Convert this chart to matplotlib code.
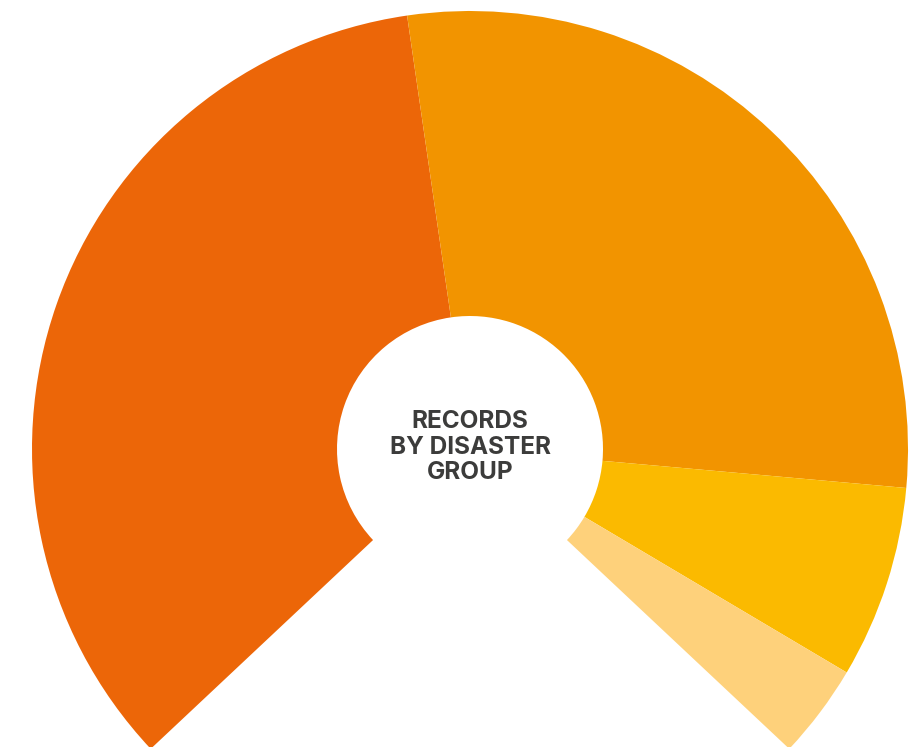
import matplotlib.pyplot as plt

groups = ['Group A', 'Group B', 'Group C', 'Group D']
shares = [46.9, 38.8, 9.6, 4.7]
colors = ['#EC6608', '#F29400', '#FBBA00', '#FED17B']

arc_frac = 0.74  # the ring covers ~266 degrees, open at the bottom

W, H = 910, 747
fig = plt.figure(figsize=(W / 100, H / 100), dpi=100)
ax = fig.add_axes([0, 0, 1, 1])

total = sum(shares)
fracs = [s / total * arc_frac for s in shares]

cx, cy = 470, H - 449
R, r = 438, 133
# begin at the bottom-left edge of the gap and run clockwise
start = 270 - 360 * (1 - arc_frac) / 2
ax.pie(fracs, colors=colors, normalize=False, startangle=start,
       counterclock=False, radius=R, center=(cx, cy),
       wedgeprops=dict(width=R - r, linewidth=0), frame=True)

ax.text(cx, cy + 2, 'RECORDS\nBY DISASTER\nGROUP', ha='center', va='center',
        fontsize=17.5, fontweight='bold', color='#3C3C3B',
        family='Inter', linespacing=1.12)

ax.set_xlim(0, W)
ax.set_ylim(0, H)
ax.set_aspect('equal')
ax.axis('off')

fig.savefig('out.png', dpi=100)
